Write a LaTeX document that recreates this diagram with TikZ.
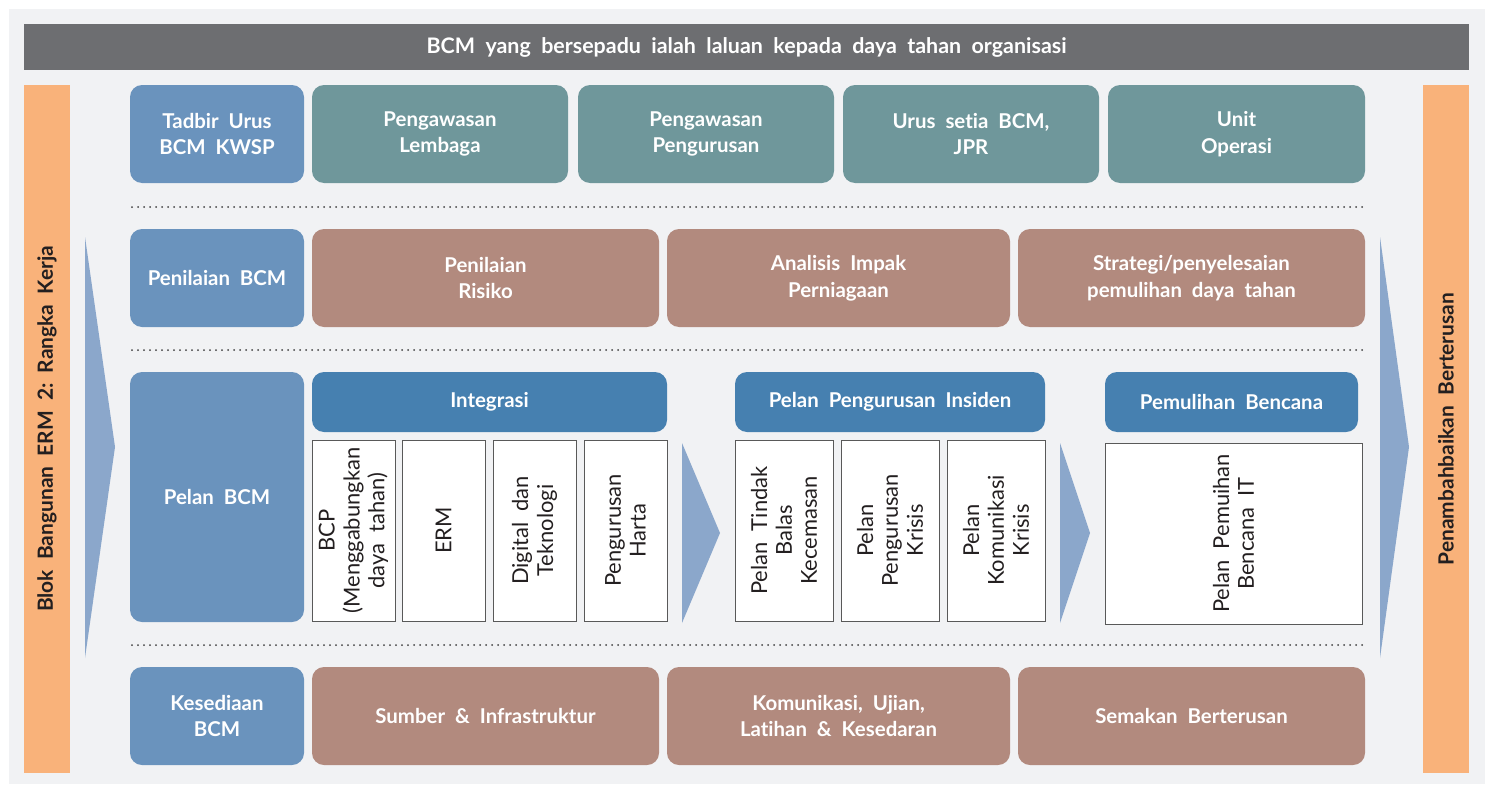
\documentclass[tikz,border=0pt]{standalone}
\usepackage{fontspec}
\setmainfont{Lato}[Ligatures=NoCommon]
\definecolor{panel}{HTML}{F1F2F4}
\definecolor{darkbar}{HTML}{6D6E71}
\definecolor{orangebar}{HTML}{F9B27A}
\definecolor{bluebox}{HTML}{6A93BD}
\definecolor{tealbox}{HTML}{6F979B}
\definecolor{brownbox}{HTML}{B28A7E}
\definecolor{headblue}{HTML}{4680B0}
\definecolor{chevron}{HTML}{8BA7CB}
\definecolor{txtdark}{HTML}{231F20}
\newcommand{\mybox}[7]{\node[#6,minimum width={(#4-#2)*1bp},minimum height={(#5-#3)*1bp}] (#1) at ({(#2+#4)/2},{(#3+#5)/2}) {#7};}
\newcommand{\myrbox}[7]{\node[#6,rotate=90,minimum width={(#5-#3)*1bp},minimum height={(#4-#2)*1bp}] (#1) at ({(#2+#4)/2},{(#3+#5)/2}) {#7};}
\tikzset{
  base/.style={inner sep=0pt,outer sep=0pt,align=center,font=\fontsize{20.5}{27}\selectfont\bfseries,text=white},
  bluerb/.style={base,fill=bluebox,rounded corners=12bp},
  tealrb/.style={base,fill=tealbox,rounded corners=12bp},
  brownrb/.style={base,fill=brownbox,rounded corners=12bp},
  headrb/.style={base,fill=headblue,rounded corners=12bp},
  whitebx/.style={inner sep=0pt,outer sep=0pt,align=center,fill=white,draw=black!65,line width=0.9bp,font=\fontsize{22}{25}\selectfont,text=txtdark},
  sidebar/.style={inner sep=0pt,outer sep=0pt,fill=orangebar,font=\fontsize{21}{24}\selectfont\bfseries,text=txtdark},
  topbar/.style={inner sep=0pt,outer sep=0pt,fill=darkbar,font=\fontsize{21.5}{24}\selectfont\bfseries,text=white},
  dotline/.style={draw=black!75,line width=2bp,line cap=round,dash pattern=on 0bp off 6bp},
  chev/.style={fill=chevron,draw=none}
}
\begin{document}
\begin{tikzpicture}[x=1bp,y=-1bp]
\useasboundingbox (0,0) rectangle (1485,784);
\fill[white] (0,0) rectangle (1485,784);
\fill[panel] (9,9) rectangle (1485,784);
% top bar
\mybox{title}{24}{24}{1469}{70}{topbar}{BCM\ \ yang\ \ bersepadu\ \ ialah\ \ laluan\ \ kepada\ \ daya\ \ tahan\ \ organisasi}
% side bars
\myrbox{leftbar}{24}{85}{70}{773}{sidebar}{Blok\ \ Bangunan\ \ ERM\ \ 2:\ \ Rangka\ \ Kerja}
\myrbox{rightbar}{1423}{85}{1469}{773}{sidebar}{Penambahbaikan\ \ Berterusan}
% big chevrons
\fill[chev] (85,237) -- (115,447) -- (85,658) -- cycle;
\fill[chev] (1380,237) -- (1409,447) -- (1380,658) -- cycle;
% row 1
\mybox{tadbir}{130}{85}{304}{183}{bluerb}{Tadbir\ \ Urus\\BCM\ \ KWSP}
\mybox{lembaga}{312}{85}{568}{183}{tealrb}{Pengawasan\\Lembaga}
\mybox{pengurusan}{578}{85}{834}{183}{tealrb}{Pengawasan\\Pengurusan}
\mybox{urussetia}{843}{85}{1099}{183}{tealrb}{Urus\ \ setia\ \ BCM,\\JPR}
\mybox{unit}{1108}{85}{1365}{183}{tealrb}{Unit\\Operasi}
% dotted separators
\coordinate (d1a) at (132,207); \coordinate (d1b) at (1365,207);
\coordinate (d2a) at (132,350); \coordinate (d2b) at (1365,350);
\coordinate (d3a) at (132,645); \coordinate (d3b) at (1365,645);
\draw[dotline] (d1a) -- (d1b);
\draw[dotline] (d2a) -- (d2b);
\draw[dotline] (d3a) -- (d3b);
% row 2
\mybox{penilaian}{130}{229}{304}{327}{bluerb}{Penilaian\ \ BCM}
\mybox{risiko}{312}{229}{659}{327}{brownrb}{Penilaian\\Risiko}
\mybox{analisis}{667}{229}{1010}{327}{brownrb}{Analisis\ \ Impak\\Perniagaan}
\mybox{strategi}{1018}{229}{1365}{327}{brownrb}{Strategi/penyelesaian\\pemulihan\ \ daya\ \ tahan}
% row 3
\mybox{pelan}{130}{372}{304}{622}{bluerb}{Pelan\ \ BCM}
\mybox{integrasi}{312}{372}{667}{432}{headrb}{Integrasi}
\mybox{insiden}{735}{372}{1045}{432}{headrb}{Pelan\ \ Pengurusan\ \ Insiden}
\mybox{bencana}{1105}{372}{1358}{432}{headrb}{Pemulihan\ \ Bencana}
\myrbox{bcp}{312}{440}{395}{621}{whitebx}{BCP\\(Menggabungkan\\daya\ \ tahan)}
\myrbox{erm}{402}{440}{485}{621}{whitebx}{ERM}
\myrbox{digital}{493}{440}{576}{621}{whitebx}{Digital\ \ dan\\Teknologi}
\myrbox{harta}{584}{440}{667}{621}{whitebx}{Pengurusan\\Harta}
\myrbox{tindak}{735}{440}{833}{621}{whitebx}{Pelan\ \ Tindak\\Balas\\Kecemasan}
\myrbox{krisis}{841}{440}{939}{621}{whitebx}{Pelan\\Pengurusan\\Krisis}
\myrbox{komunikasi}{947}{440}{1045}{621}{whitebx}{Pelan\\Komunikasi\\Krisis}
\myrbox{pemuihan}{1105}{443}{1362}{624}{whitebx}{Pelan\ \ Pemuihan\\Bencana\ \ IT}
\fill[chev] (682,443) -- (720,533) -- (682,623) -- cycle;
\fill[chev] (1060,443) -- (1090,533) -- (1060,623) -- cycle;
% row 4
\mybox{kesediaan}{130}{667}{304}{765}{bluerb}{Kesediaan\\BCM}
\mybox{sumber}{312}{667}{659}{765}{brownrb}{Sumber\ \ \&\ \ Infrastruktur}
\mybox{komlat}{667}{667}{1010}{765}{brownrb}{Komunikasi,\ \ Ujian,\\Latihan\ \ \&\ \ Kesedaran}
\mybox{semakan}{1018}{667}{1365}{765}{brownrb}{Semakan\ \ Berterusan}
\end{tikzpicture}
\end{document}
